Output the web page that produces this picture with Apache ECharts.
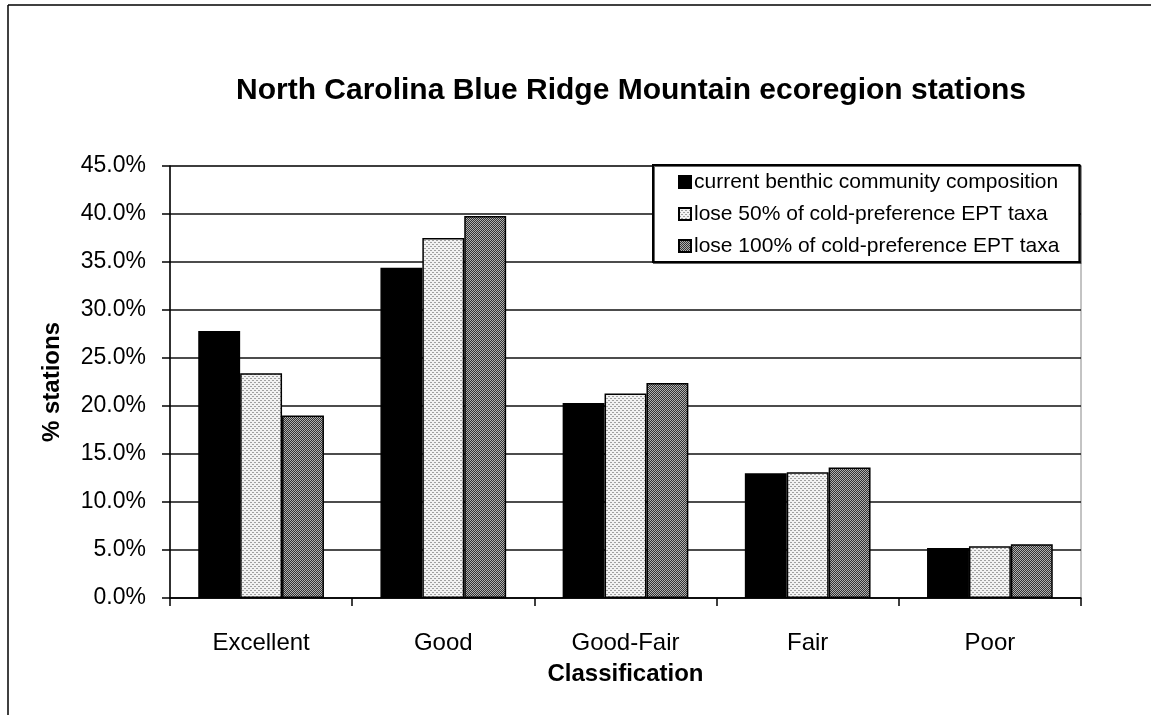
<!DOCTYPE html>
<html><head><meta charset="utf-8">
<script src="https://cdn.jsdelivr.net/npm/echarts@6/dist/echarts.min.js"></script>
<style>html,body{margin:0;padding:0;background:#fff}#c{width:1151px;height:715px}</style>
</head><body><div id="c"></div>
<script>
const categories = ['Excellent', 'Good', 'Good-Fair', 'Fair', 'Poor'];
const seriesNames = ['current benthic community composition', 'lose 50% of cold-preference EPT taxa', 'lose 100% of cold-preference EPT taxa'];
const current = [27.8, 34.4, 20.3, 13.0, 5.2];
const lose50 = [23.4, 37.5, 21.3, 13.1, 5.4];
const lose100 = [19.0, 39.8, 22.4, 13.6, 5.6];

function dotPattern() {
  const c = document.createElement('canvas'); c.width = 4; c.height = 4;
  const g = c.getContext('2d');
  g.fillStyle = '#f2f2f2'; g.fillRect(0, 0, 4, 4);
  g.fillStyle = '#a0a0a0';
  g.fillRect(0, 0, 2, 1); g.fillRect(2, 2, 2, 1);
  return c;
}
function hatchPattern() {
  const c = document.createElement('canvas'); c.width = 4; c.height = 4;
  const g = c.getContext('2d');
  g.fillStyle = '#b0b0b0'; g.fillRect(0, 0, 4, 4);
  g.fillStyle = '#333';
  for (let i = 0; i < 4; i++) { g.fillRect(3 - i, i, 1, 1); g.fillRect((5 - i) % 4, i, 1, 1); }
  return c;
}
const fills = ['#000', { image: dotPattern(), repeat: 'repeat' }, { image: hatchPattern(), repeat: 'repeat' }];
const data = [current, lose50, lose100];
const FONT = 'Liberation Sans, Arial';

const chart = echarts.init(document.getElementById('c'));
chart.setOption({
  animation: false,
  backgroundColor: '#fff',
  title: {
    text: 'North Carolina Blue Ridge Mountain ecoregion stations',
    left: 626, textAlign: 'center', top: 71,
    textStyle: { fontFamily: FONT, fontWeight: 'bold', fontSize: 30, color: '#000' }
  },
  legend: {
    left: 653, top: 165, orient: 'vertical',
    padding: [5, 20, 4, 25], itemGap: 8,
    backgroundColor: '#fff', borderColor: '#000', borderWidth: 2,
    shadowColor: 'rgba(0,0,0,0.6)', shadowOffsetX: 1, shadowOffsetY: 1,
    itemWidth: 12, itemHeight: 12, icon: 'rect',
    textStyle: { fontFamily: FONT, fontSize: 21, color: '#000', padding: [0, 0, 0, -2], lineHeight: 24 },
    data: seriesNames
  },
  grid: { left: 170, right: 70, top: 166, bottom: 117, show: true, borderColor: '#888', borderWidth: 1, backgroundColor: 'transparent' },
  xAxis: {
    type: 'category', data: categories,
    name: 'Classification', nameLocation: 'middle', nameGap: 64,
    nameTextStyle: { fontFamily: FONT, fontWeight: 'bold', fontSize: 24, color: '#000' },
    axisLine: { lineStyle: { color: '#000', width: 1.5 } },
    axisTick: { show: true, length: 8, lineStyle: { color: '#000', width: 1.5 } },
    axisLabel: { fontFamily: FONT, fontSize: 24, color: '#000', margin: 33 }
  },
  yAxis: {
    type: 'value', min: 0, max: 45, interval: 5,
    name: '% stations', nameLocation: 'middle', nameGap: 106, nameRotate: 90,
    nameTextStyle: { fontFamily: FONT, fontWeight: 'bold', fontSize: 24, color: '#000' },
    axisLine: { show: true, lineStyle: { color: '#000', width: 1.5 } },
    axisTick: { show: true, length: 8, lineStyle: { color: '#000', width: 1.5 } },
    axisLabel: { fontFamily: FONT, fontSize: 23, color: '#000', margin: 24, formatter: v => v.toFixed(1) + '%' },
    splitLine: { lineStyle: { color: '#111', width: 1.5 } }
  },
  series: data.map((d, i) => ({
    name: seriesNames[i], type: 'bar', data: d,
    barGap: '0%', barCategoryGap: '31%',
    itemStyle: { color: fills[i], borderColor: '#000', borderWidth: 1.5 }
  })),
  graphic: [
    { type: 'line', shape: { x1: 8, y1: 5, x2: 8, y2: 715 }, style: { stroke: '#000', lineWidth: 1.5 } },
    { type: 'line', shape: { x1: 8, y1: 5, x2: 1151, y2: 5 }, style: { stroke: '#000', lineWidth: 1.5 } }
  ]
});
</script></body></html>
